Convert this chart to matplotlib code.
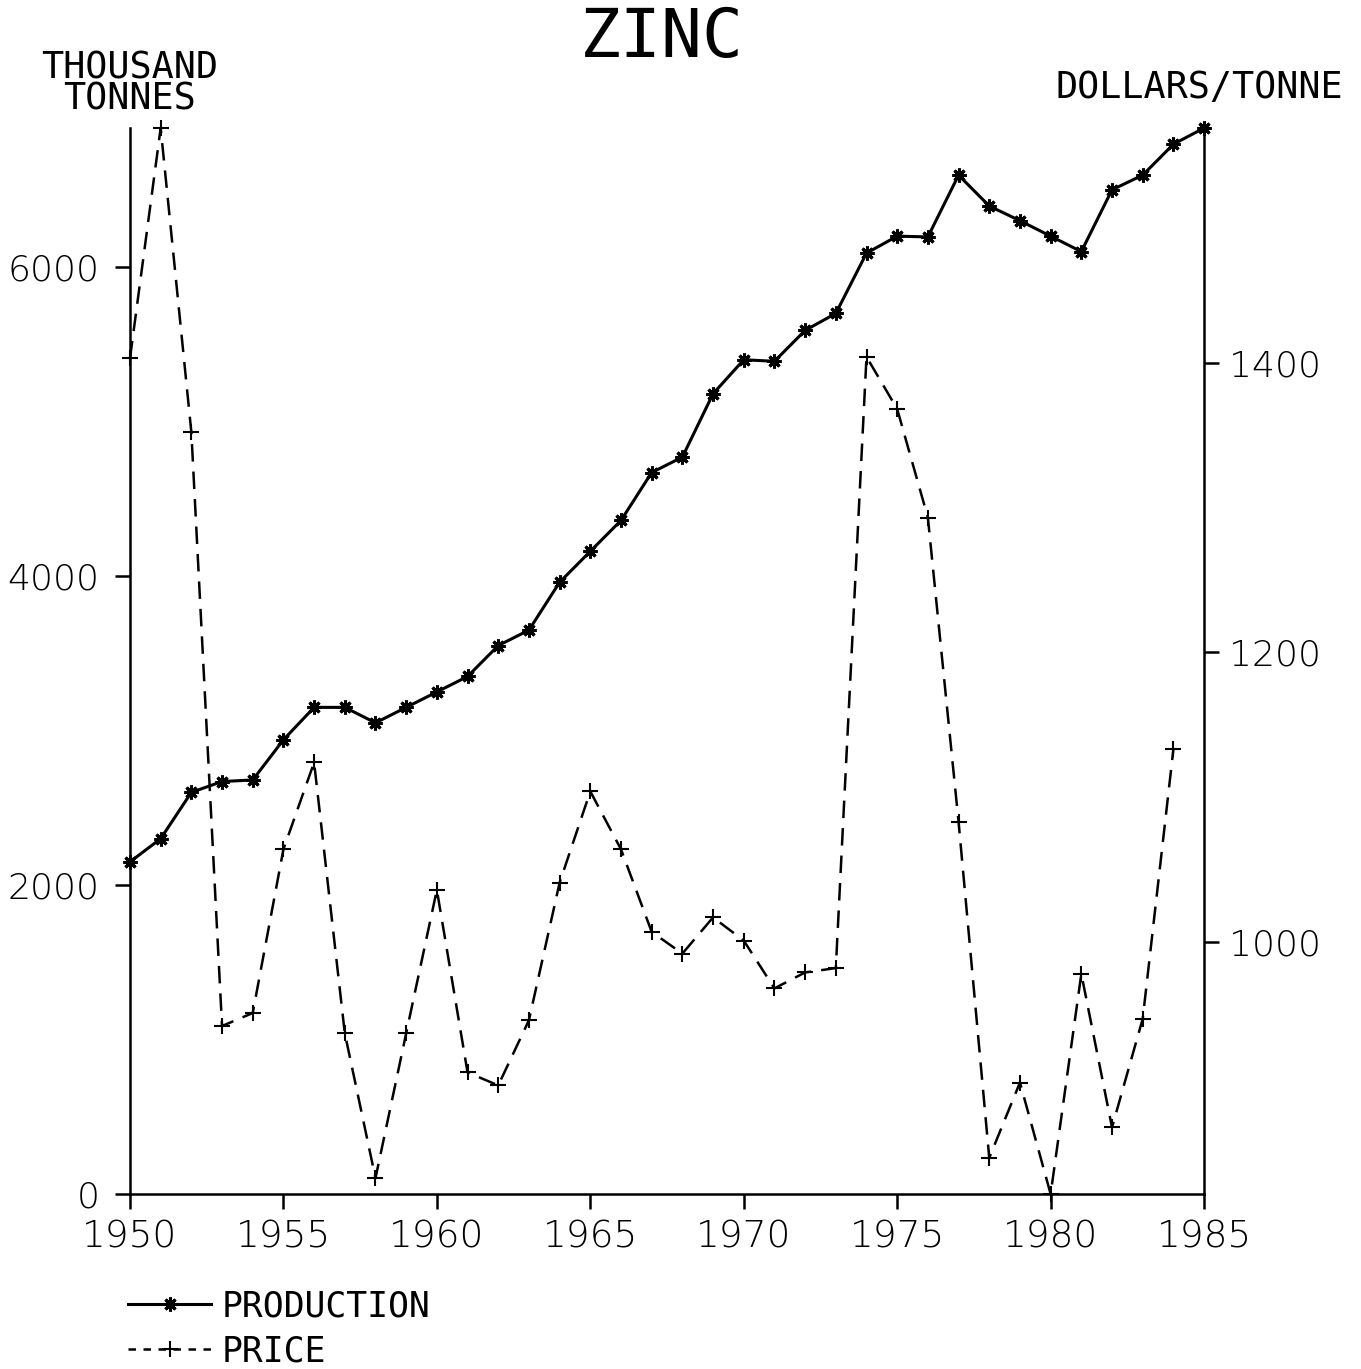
import matplotlib
matplotlib.use("Agg")
import matplotlib.pyplot as plt
from matplotlib.lines import Line2D

years = list(range(1950, 1986))
production = [2150, 2300, 2600, 2670, 2680, 2940, 3150, 3150, 3050, 3150,
              3250, 3350, 3550, 3650, 3960, 4160, 4360, 4670, 4770, 5180,
              5400, 5390, 5590, 5700, 6090, 6200, 6195, 6595, 6395, 6300,
              6200, 6100, 6500, 6595, 6795, 6900]
price_years = list(range(1950, 1985))
price = [1403, 1562, 1352, 942, 951, 1064, 1124, 937, 837, 937,
         1036, 910, 901, 946, 1041, 1104, 1064, 1007, 992, 1017,
         1001, 968, 979, 982, 1404, 1368, 1293, 1083, 851, 903,
         826, 978, 872, 947, 1133]

x_ticks = [1950, 1955, 1960, 1965, 1970, 1975, 1980, 1985]
left_ticks = [0, 2000, 4000, 6000]
right_ticks = [1000, 1200, 1400]

TXT = "DejaVu Sans Mono"
NUM = "DejaVu Sans"

fig = plt.figure(figsize=(13.61, 13.69), dpi=100)
ax = fig.add_axes([0.0955, 0.1278, 0.7892, 0.7787])
ax2 = ax.twinx()

ast = (8, 2, 0)
ax.plot(years, production, color="black", lw=2.2, marker=ast, ms=10, mew=2.2,
        clip_on=False, zorder=3)
ax2.plot(price_years, price, color="black", lw=1.8, ls=(0, (7, 4)), marker="+",
         ms=11, mew=1.5, clip_on=False, zorder=3)

ax.set_xlim(1950, 1985)
ax.set_ylim(0, 6900)
ax2.set_ylim(826, 1562)

ax.set_xticks(x_ticks)
ax.set_yticks(left_ticks)
ax2.set_yticks(right_ticks)

for a in (ax, ax2):
    a.spines["top"].set_visible(False)
    for s in a.spines.values():
        s.set_linewidth(1.8)
ax2.spines["left"].set_visible(False)
ax2.spines["bottom"].set_visible(False)
ax.spines["right"].set_visible(False)

ax.tick_params(axis="x", direction="out", length=11, width=1.8, labelsize=27, pad=7)
ax.tick_params(axis="y", direction="out", length=11, width=1.8, labelsize=26, pad=11)
ax2.tick_params(axis="y", direction="out", length=11, width=1.8, labelsize=26, pad=7)
for lab in ax.get_xticklabels() + ax.get_yticklabels() + ax2.get_yticklabels():
    lab.set_family(NUM)
    lab.set_fontweight("light")

fig.text(0.486, 0.972, "ZINC", ha="center", va="center", fontsize=49, family=TXT)
fig.text(0.0955, 0.939, "THOUSAND\nTONNES", ha="center", va="center", fontsize=26.5,
         family=TXT, linespacing=0.82)
fig.text(0.881, 0.936, "DOLLARS/TONNE", ha="center", va="center", fontsize=26.5,
         family=TXT)

handles = [
    Line2D([], [], color="black", lw=2.2, marker=ast, ms=10, mew=2.2),
    Line2D([], [], color="black", lw=1.8, ls=(0, (3, 3)), marker="+", ms=11, mew=1.5),
]
leg = fig.legend(handles, ["PRODUCTION", "PRICE"], loc="upper left",
                 bbox_to_anchor=(0.094, 0.058), frameon=False, fontsize=25,
                 handlelength=2.4, handletextpad=0.3, labelspacing=0.3,
                 borderpad=0, borderaxespad=0)
for t in leg.get_texts():
    t.set_family(TXT)

fig.savefig("out.png", dpi=100)
